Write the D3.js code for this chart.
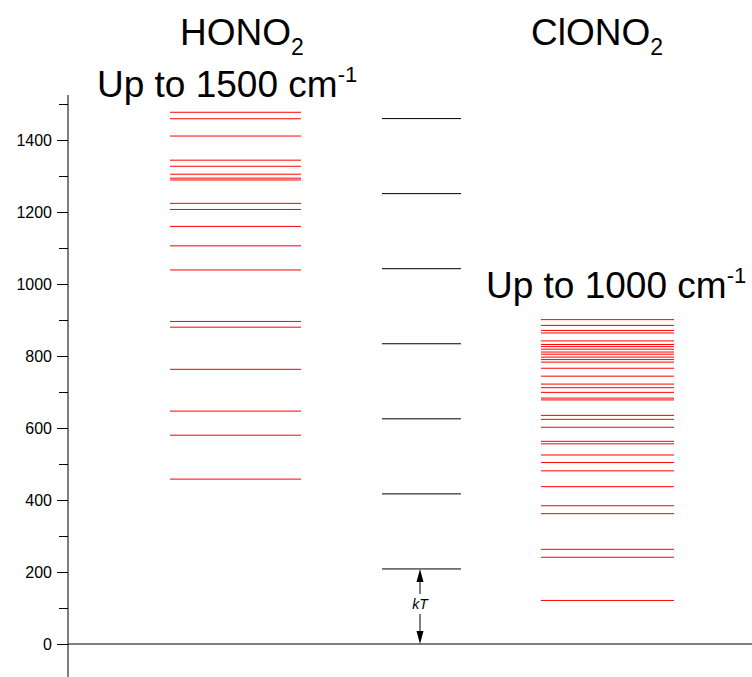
<!DOCTYPE html>
<html>
<head>
<meta charset="utf-8">
<script src="https://cdn.jsdelivr.net/npm/d3@7"></script>
<style>
  html, body { margin: 0; padding: 0; background: #fff; }
  svg { display: block; font-family: "Liberation Sans", Arial, sans-serif; }
</style>
</head>
<body>
<svg id="chart" width="752" height="677"></svg>
<script>
// Vibrational energy levels (cm^-1)
const hono2Levels = [458, 580, 647, 763, 880, 896, 1039, 1106, 1160, 1207, 1224,
  1289, 1294, 1305, 1327, 1344, 1411, 1459, 1477];
const clono2Levels = [121, 241, 263, 362, 384, 437, 481, 504, 525, 556, 563, 602,
  624, 635, 678, 683, 699, 712, 722, 744, 766, 783, 790, 797, 805, 811, 819, 826,
  832, 842, 864, 871, 885, 901];
// Thermal energy ladder: multiples of kT at room temperature
const kTValue = 208.5;
const kTLevels = [208.5, 417, 625.5, 834, 1042.5, 1251, 1459.5];
// Axis ticks
const majorTicks = [0, 200, 400, 600, 800, 1000, 1200, 1400];
const minorTicks = [100, 300, 500, 700, 900, 1100, 1300, 1500];

const svg = d3.select("#chart");

const y = d3.scaleLinear().domain([0, 1400]).range([644, 140]);
const axisX = 68;

// Column x-ranges
const colHono2 = d3.scaleLinear().range([170, 301]);
const colKT = d3.scaleLinear().range([382, 461]);
const colClono2 = d3.scaleLinear().range([541, 674]);

// Y axis
svg.append("line")
  .attr("x1", axisX).attr("x2", axisX)
  .attr("y1", y(1525)).attr("y2", 677)
  .attr("stroke", "#000").attr("stroke-width", 1);

const major = svg.append("g")
  .attr("transform", `translate(${axisX},0)`)
  .call(d3.axisLeft(y).tickValues(majorTicks).tickSize(11).tickPadding(5).tickFormat(d3.format("d")));
major.select(".domain").remove();
major.selectAll("text").attr("font-size", 16).attr("font-family", "Liberation Sans, Arial, sans-serif").attr("fill", "#000");
major.selectAll("line").attr("stroke", "#000");

const minor = svg.append("g")
  .attr("transform", `translate(${axisX},0)`)
  .call(d3.axisLeft(y).tickValues(minorTicks).tickSize(9).tickFormat(""));
minor.select(".domain").remove();
minor.selectAll("line").attr("stroke", "#000");

// Zero-energy baseline
svg.append("line")
  .attr("x1", axisX).attr("x2", 752)
  .attr("y1", y(0)).attr("y2", y(0))
  .attr("stroke", "#000").attr("stroke-width", 1);

function drawLevels(data, xs, color, cls) {
  svg.append("g").selectAll("line." + cls)
    .data(data).join("line")
    .attr("class", cls)
    .attr("x1", xs(0)).attr("x2", xs(1))
    .attr("y1", d => y(d)).attr("y2", d => y(d))
    .attr("stroke", color).attr("stroke-width", 1);
}
drawLevels(hono2Levels, colHono2, "#ff0000", "hono2");
drawLevels(clono2Levels, colClono2, "#ff0000", "clono2");
drawLevels(kTLevels, colKT, "#000", "kt");

// kT double arrow
const ax = 420;
const yTop = y(kTValue), yBot = y(0);
const head = 13, hw = 3.5;
svg.append("line").attr("x1", ax).attr("x2", ax)
  .attr("y1", yTop + head).attr("y2", 594).attr("stroke", "#000");
svg.append("line").attr("x1", ax).attr("x2", ax)
  .attr("y1", 614).attr("y2", yBot - head).attr("stroke", "#000");
svg.append("path")
  .attr("d", `M${ax},${yTop} L${ax - hw},${yTop + head} L${ax + hw},${yTop + head} Z`)
  .attr("fill", "#000");
svg.append("path")
  .attr("d", `M${ax},${yBot} L${ax - hw},${yBot - head} L${ax + hw},${yBot - head} Z`)
  .attr("fill", "#000");
svg.append("text").attr("x", ax).attr("y", 609)
  .attr("text-anchor", "middle").attr("font-size", 14).attr("font-style", "italic")
  .text("kT");

// Titles
function formula(x, yb, base, sub) {
  const t = svg.append("text").attr("x", x).attr("y", yb).attr("font-size", 37);
  t.append("tspan").text(base);
  t.append("tspan").attr("font-size", 23).attr("dy", 10).text(sub);
}
function rangeLabel(x, yb, base, sup) {
  const t = svg.append("text").attr("x", x).attr("y", yb).attr("font-size", 37);
  t.append("tspan").text(base);
  t.append("tspan").attr("font-size", 22).attr("dy", -15).text(sup);
}
formula(180, 45, "HONO", "2");
rangeLabel(97, 97, "Up to 1500 cm", "-1");
formula(531, 45, "ClONO", "2");
rangeLabel(486, 298, "Up to 1000 cm", "-1");
</script>
</body>
</html>
